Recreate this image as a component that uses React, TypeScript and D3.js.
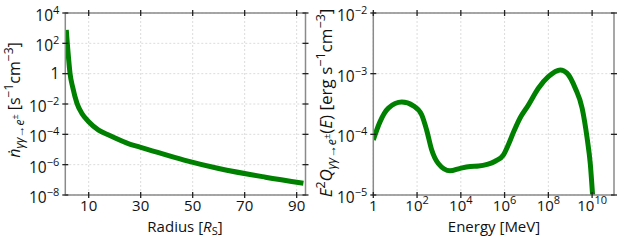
import React from 'react';
import * as d3 from 'd3';

// left panel: pair production rate vs radius
const radiusRs = [1.38, 1.77, 2.31, 2.8, 3.85, 5.5, 7.4, 10, 13.8, 17.7, 26, 29.7, 46.7, 60, 78, 92.6];
const pairRate = [7.6e2, 1.0e2, 7.9, 1.1, 1.26e-1, 1.1e-2, 2.4e-3, 6.8e-4, 1.9e-4, 8.9e-5, 2.2e-5, 1.45e-5, 2.0e-6, 5.6e-7, 1.5e-7, 6.0e-8];

// right panel: pair injection spectrum
const energyMeV = [1, 2.04, 4.9, 20, 68, 162, 275, 468, 933, 3.2e3, 9.3e3, 2.7e4, 6.5e4, 1.6e5, 3.7e5, 8.9e5, 1.5e6, 2.6e6, 5.1e6, 1.2e7, 3.5e7, 1.0e8, 3.5e8, 7.1e8, 1.7e9, 3.5e9, 5.9e9, 8.3e9, 1.05e10];
const pairSpectrum = [8.1e-5, 1.62e-4, 2.7e-4, 3.4e-4, 2.95e-4, 2.1e-4, 1.17e-4, 5.5e-5, 3.3e-5, 2.5e-5, 2.75e-5, 2.95e-5, 3.0e-5, 3.2e-5, 3.6e-5, 4.6e-5, 6.8e-5, 1.1e-4, 1.86e-4, 3.0e-4, 5.75e-4, 8.9e-4, 1.15e-3, 1.02e-3, 5.75e-4, 2.7e-4, 8.7e-5, 3.2e-5, 1.0e-5];

const radiusTicks = [10, 30, 50, 70, 90];
const rateTicks = [1e-8, 1e-6, 1e-4, 1e-2, 1, 1e2, 1e4];
const energyTicks = [1, 1e2, 1e4, 1e6, 1e8, 1e10];
const spectrumTicks = [1e-5, 1e-4, 1e-3, 1e-2];

const FONT = "'Open Sans', sans-serif";
const GREEN = '#008000';
const TOP = 13;
const BOTTOM = 195;

const powLabel = (v: number) => {
  const e = Math.round(Math.log10(v));
  if (e === 0) return [<tspan key="b">1</tspan>];
  return [
    <tspan key="b">10</tspan>,
    <tspan key="e" dy={-7} fontSize={11}>{e < 0 ? '\u2212' + -e : String(e)}</tspan>,
  ];
};

const Panel = ({ id, x, y, xs, ys, xTicks, yTicks, xFmt }: any) => {
  const [x0, x1] = x.range();
  const line = d3
    .line<number>()
    .x((d, i) => x(xs[i]))
    .y((d) => y(d))
    .curve(d3.curveMonotoneX);

  return (
    <g>
      <defs>
        <clipPath id={id}>
          <rect x={x0} y={TOP} width={x1 - x0} height={BOTTOM - TOP} />
        </clipPath>
      </defs>
      {xTicks.map((t: number) => (
        <line key={'gx' + t} x1={x(t)} x2={x(t)} y1={TOP} y2={BOTTOM} stroke="#dcdcdc" strokeDasharray="2,2" />
      ))}
      {yTicks.map((t: number) => (
        <line key={'gy' + t} x1={x0} x2={x1} y1={y(t)} y2={y(t)} stroke="#dcdcdc" strokeDasharray="2,2" />
      ))}
      <path d={line(ys) || ''} fill="none" stroke={GREEN} strokeWidth={5} clipPath={`url(#${id})`} />
      <rect x={x0} y={TOP} width={x1 - x0} height={BOTTOM - TOP} fill="none" stroke="#8a8a8a" strokeWidth={1.5} />
      {xTicks.map((t: number) => (
        <g key={'tx' + t}>
          <line x1={x(t)} x2={x(t)} y1={BOTTOM - 3} y2={BOTTOM + 3} stroke="#222" strokeWidth={1.3} />
          <line x1={x(t)} x2={x(t)} y1={TOP - 3} y2={TOP + 3} stroke="#222" strokeWidth={1.3} />
          <text x={x(t)} y={211} textAnchor="middle" fontSize={15} fill="#111">
            {xFmt(t)}
          </text>
        </g>
      ))}
      {yTicks.map((t: number) => (
        <g key={'ty' + t}>
          <line x1={x0 - 3} x2={x0 + 3} y1={y(t)} y2={y(t)} stroke="#222" strokeWidth={1.3} />
          <line x1={x1 - 3} x2={x1 + 3} y1={y(t)} y2={y(t)} stroke="#222" strokeWidth={1.3} />
          <text x={x0 - 6} y={y(t) + (t === 1 ? 5.5 : 8)} textAnchor="end" fontSize={15.5} fill="#111">
            {powLabel(t)}
          </text>
        </g>
      ))}
    </g>
  );
};

export default function App() {
  const xLeft = d3.scaleLinear().domain([1, 93.4]).range([65.3, 305.5]);
  const yLeft = d3.scaleLog().domain([1e-8, 1e4]).range([BOTTOM, TOP]);
  const xRight = d3.scaleLog().domain([1, 1e11]).range([373.3, 614]);
  const yRight = d3.scaleLog().domain([1e-5, 1e-2]).range([BOTTOM, TOP]);

  return (
    <svg
      width={623}
      height={240}
      style={{ position: 'absolute', left: 0, top: 0, background: '#fff' }}
      fontFamily={FONT}
    >
      <Panel
        id="clipL"
        x={xLeft}
        y={yLeft}
        xs={radiusRs}
        ys={pairRate}
        xTicks={radiusTicks}
        yTicks={rateTicks}
        xFmt={(t: number) => String(t)}
      />
      <Panel
        id="clipR"
        x={xRight}
        y={yRight}
        xs={energyMeV}
        ys={pairSpectrum}
        xTicks={energyTicks}
        yTicks={spectrumTicks}
        xFmt={powLabel}
      />

      <text x={185} y={232} textAnchor="middle" fontSize={15} fill="#111">
        <tspan>Radius [</tspan>
        <tspan fontStyle="italic">R</tspan>
        <tspan fontSize={11} dy={3}>S</tspan>
        <tspan dy={-3}>]</tspan>
      </text>
      <text x={494} y={232} textAnchor="middle" fontSize={15} fill="#111">
        Energy [MeV]
      </text>

      <text transform="translate(20,100) rotate(-90)" textAnchor="middle" fontSize={16} fill="#111">
        <tspan fontStyle="italic">ṅ</tspan>
        <tspan fontSize={12} dy={4} fontStyle="italic">γγ</tspan>
        <tspan fontSize={12}>→</tspan>
        <tspan fontSize={12} fontStyle="italic">e</tspan>
        <tspan fontSize={9} dy={-6}>±</tspan>
        <tspan dy={2}>{' [s'}</tspan>
        <tspan fontSize={12} dy={-7}>−1</tspan>
        <tspan dy={7}>cm</tspan>
        <tspan fontSize={12} dy={-7}>−3</tspan>
        <tspan dy={7}>]</tspan>
      </text>

      <text transform="translate(332,103) rotate(-90)" textAnchor="middle" fontSize={17} fill="#111">
        <tspan fontStyle="italic">E</tspan>
        <tspan fontSize={12.5} dy={-7}>2</tspan>
        <tspan fontStyle="italic" dy={7}>Q</tspan>
        <tspan fontSize={12.5} dy={4} fontStyle="italic">γγ</tspan>
        <tspan fontSize={12.5}>→</tspan>
        <tspan fontSize={12.5} fontStyle="italic">e</tspan>
        <tspan fontSize={9} dy={-6}>±</tspan>
        <tspan dy={2}>(</tspan>
        <tspan fontStyle="italic">E</tspan>
        <tspan>{') [erg s'}</tspan>
        <tspan fontSize={12.5} dy={-7}>−1</tspan>
        <tspan dy={7}>cm</tspan>
        <tspan fontSize={12.5} dy={-7}>−3</tspan>
        <tspan dy={7}>]</tspan>
      </text>
    </svg>
  );
}
